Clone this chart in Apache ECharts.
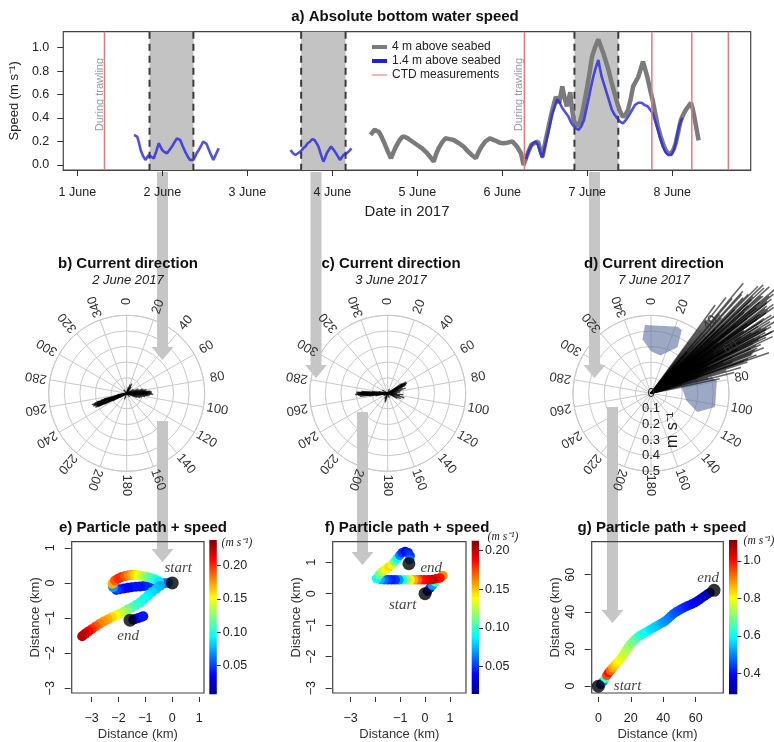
<!DOCTYPE html>
<html>
<head>
<meta charset="utf-8">
<title>Bottom water speed, current direction and particle paths</title>
<script src="https://cdn.jsdelivr.net/npm/echarts@6/dist/echarts.min.js"></script>
<style>
  html, body { margin: 0; padding: 0; background: #fff; }
  #chart { width: 774px; height: 742px; }
</style>
</head>
<body>
<div id="chart"></div>
<script>
// ---------- a) speed time series, x = days after 1 June 2017 00:00 ----------
const dayTicks = [0, 1, 2, 3, 4, 5, 6, 7];
const dayLabels = ['1 June', '2 June', '3 June', '4 June', '5 June', '6 June', '7 June', '8 June'];
const speedTicks = [0, 0.2, 0.4, 0.6, 0.8, 1.0];
const ctdDays = [0.319, 5.26, 6.76, 7.23, 7.66];
const trawlDays = [0.319, 5.26];
const focusBands = [[0.849, 1.365], [2.633, 3.156], [5.849, 6.365]];

const speed4m = [
  [3.45,0.256],[3.475,0.28],[3.497,0.30],[3.52,0.30],[3.55,0.28],[3.58,0.24],[3.613,0.185],[3.65,0.12],
  [3.69,0.057],[3.72,0.11],[3.749,0.157],[3.79,0.21],[3.826,0.24],[3.85,0.24],[3.88,0.23],[3.94,0.20],
  [4.0,0.17],[4.06,0.14],[4.116,0.10],[4.16,0.06],[4.194,0.028],[4.22,0.09],[4.25,0.142],[4.29,0.19],
  [4.33,0.227],[4.38,0.22],[4.427,0.213],[4.49,0.185],[4.543,0.157],[4.59,0.12],[4.64,0.085],[4.69,0.057],
  [4.72,0.11],[4.756,0.157],[4.80,0.20],[4.853,0.227],[4.91,0.21],[4.97,0.19],[5.008,0.185],[5.06,0.19],
  [5.12,0.20],[5.17,0.16],[5.22,0.10],[5.25,0.0],[5.28,0.06],[5.30,0.10],[5.34,0.17],[5.377,0.185],
  [5.42,0.20],[5.45,0.12],[5.473,0.07],[5.51,0.21],[5.54,0.31],[5.57,0.41],[5.60,0.50],[5.63,0.58],
  [5.67,0.53],[5.706,0.67],[5.73,0.58],[5.76,0.50],[5.80,0.62],[5.82,0.48],[5.84,0.38],[5.88,0.33],
  [5.91,0.36],[5.94,0.44],[5.97,0.55],[6.0,0.67],[6.03,0.80],[6.055,0.92],[6.09,1.0],[6.13,1.07],
  [6.16,1.01],[6.19,0.95],[6.22,0.88],[6.25,0.81],[6.28,0.72],[6.31,0.64],[6.34,0.56],[6.365,0.50],
  [6.39,0.45],[6.42,0.41],[6.45,0.43],[6.48,0.47],[6.51,0.56],[6.54,0.67],[6.57,0.71],[6.60,0.75],
  [6.63,0.82],[6.655,0.88],[6.68,0.82],[6.71,0.74],[6.74,0.64],[6.77,0.55],[6.80,0.44],[6.83,0.33],
  [6.86,0.25],[6.89,0.185],[6.92,0.13],[6.95,0.10],[6.99,0.10],[7.02,0.14],[7.04,0.185],[7.07,0.28],
  [7.10,0.38],[7.13,0.43],[7.16,0.47],[7.19,0.50],[7.22,0.53],[7.24,0.48],[7.26,0.41],[7.285,0.31],[7.31,0.21]
];

const speed14m = [
  [0.667,0.256],[0.69,0.25],[0.705,0.24],[0.725,0.19],[0.744,0.128],[0.77,0.08],[0.80,0.043],[0.82,0.06],
  [0.84,0.085],[0.87,0.07],[0.90,0.057],[0.93,0.12],[0.958,0.185],[0.975,0.16],[0.997,0.128],[1.025,0.11],
  [1.055,0.10],[1.085,0.13],[1.113,0.157],[1.14,0.19],[1.171,0.227],[1.19,0.215],[1.21,0.213],[1.24,0.16],
  [1.268,0.114],[1.30,0.07],[1.326,0.043],[1.345,0.03],[1.365,0.043],[1.385,0.07],[1.403,0.10],[1.43,0.13],
  [1.46,0.17],[1.48,0.20],[1.50,0.213],[1.52,0.18],[1.54,0.142],[1.57,0.09],[1.60,0.043],[1.63,0.09],[1.663,0.142],
  [2.0,'-'],
  [2.508,0.128],[2.537,0.10],[2.566,0.085],[2.595,0.10],[2.624,0.114],[2.655,0.14],[2.683,0.157],[2.71,0.185],
  [2.74,0.20],[2.765,0.22],[2.79,0.213],[2.81,0.19],[2.837,0.157],[2.865,0.09],[2.895,0.028],[2.915,0.06],
  [2.934,0.10],[2.96,0.13],[2.985,0.157],[3.005,0.14],[3.03,0.114],[3.06,0.08],[3.09,0.043],[3.11,0.06],
  [3.13,0.085],[3.15,0.09],[3.17,0.10],[3.20,0.12],[3.225,0.142],
  [4.0,'-'],
  [5.28,0.05],[5.30,0.10],[5.33,0.15],[5.36,0.185],[5.39,0.20],[5.42,0.17],[5.45,0.10],[5.47,0.06],
  [5.50,0.15],[5.53,0.24],[5.56,0.34],[5.59,0.44],[5.62,0.50],[5.645,0.56],[5.67,0.54],[5.695,0.50],
  [5.72,0.47],[5.75,0.44],[5.78,0.41],[5.81,0.36],[5.84,0.33],[5.87,0.31],[5.90,0.30],[5.93,0.33],
  [5.96,0.38],[5.99,0.48],[6.02,0.58],[6.045,0.67],[6.07,0.75],[6.10,0.83],[6.13,0.895],[6.15,0.82],
  [6.17,0.75],[6.20,0.68],[6.23,0.61],[6.26,0.54],[6.29,0.47],[6.32,0.43],[6.35,0.40],[6.385,0.37],
  [6.42,0.355],[6.45,0.38],[6.48,0.41],[6.52,0.46],[6.56,0.51],[6.60,0.53],[6.64,0.53],[6.675,0.51],
  [6.71,0.50],[6.74,0.47],[6.77,0.44],[6.80,0.37],[6.83,0.30],[6.86,0.22],[6.89,0.155],[6.92,0.11],
  [6.95,0.085],[6.99,0.085],[7.02,0.13],[7.04,0.185],[7.06,0.26],[7.08,0.33],[7.10,0.37],[7.12,0.40]
];

// ---------- b-d) current direction: [speed (m/s), direction (deg)] ----------
const angleTicks = [0, 20, 40, 60, 80, 100, 120, 140, 160, 180, 200, 220, 240, 260, 280, 300, 320, 340];
const radialTicks = [0, 0.1, 0.2, 0.3, 0.4, 0.5];

const dirJune2 = [
  [0.22,250],[0.235,252],[0.21,248],[0.20,254],[0.19,246],[0.23,249],[0.18,251],[0.16,244],[0.15,256],
  [0.21,247],[0.12,250],[0.10,242],[0.08,258],[0.17,253],[0.20,245],[0.14,249],[0.06,262],[0.05,238],
  [0.225,251],[0.215,253],[0.205,249],[0.19,252],[0.18,247],[0.22,246],[0.2,250],[0.17,255],
  [0.16,88],[0.17,92],[0.15,85],[0.14,96],[0.13,80],[0.12,100],[0.10,104],[0.15,90],[0.11,76],
  [0.09,108],[0.13,94],[0.16,86],[0.08,70],[0.07,112],[0.16,90],[0.15,94],[0.14,88],[0.12,83],
  [0.07,28],[0.06,22],[0.05,35],[0.04,15],[0.03,140],[0.04,200],[0.03,320],[0.05,60]
];
const dirJune3 = [
  [0.21,268],[0.20,270],[0.19,266],[0.20,272],[0.18,264],[0.17,274],[0.15,269],[0.12,262],[0.10,276],
  [0.16,267],[0.19,271],[0.14,265],[0.08,258],[0.06,280],[0.13,270],[0.2,268],[0.19,269],[0.18,271],
  [0.17,267],[0.16,273],
  [0.14,58],[0.13,62],[0.12,66],[0.11,55],[0.10,70],[0.12,74],[0.09,78],[0.13,60],[0.08,84],[0.14,62],
  [0.13,65],[0.12,59],
  [0.10,95],[0.11,105],[0.09,112],[0.08,100],[0.07,118],[0.06,90],
  [0.05,200],[0.04,210],[0.06,195],[0.03,160],[0.03,20],[0.04,300],[0.03,240]
];
const dirJune7 = [
  [0.92,40],[0.95,49],[0.88,42],[1.00,46],[1.05,50],[0.98,52],[0.90,55],[0.85,57],[0.80,60],[0.95,58],
  [0.75,62],[0.82,64],[0.70,66],[0.78,68],[0.72,70],[0.65,72],[0.60,74],[0.55,76],[0.45,78],[0.50,73],
  [0.85,44],[0.78,38],[0.70,36],[0.60,39],[0.93,53],[1.02,48],[0.88,47],[0.66,43],[0.58,45],[0.52,50],
  [0.48,56],[0.44,61],[0.40,65],[0.36,69],[0.32,71],[0.30,54],[0.28,47],[0.35,41],[0.42,59],[0.62,63],
  [0.70,51],[0.76,54],[0.68,58],[0.84,61],[0.90,63],[0.74,67],[0.80,71],[0.56,69],[0.64,47],[0.97,45],
  [0.87,51],[0.79,49],[0.71,56],[0.60,60],[0.50,67],[0.38,75],[0.26,62],[0.24,44],[0.92,57],[0.86,65],
  [0.94,52],[0.96,55],[0.89,59],[0.83,62],[0.77,66],[0.91,50],[0.99,47],[0.86,54],[0.81,58],[0.73,64],
  [0.69,69],[0.63,71],[0.88,61],[0.93,60],[0.97,54],[1.01,51],[0.84,48],[0.76,45],[0.67,41],[0.59,37],
  [0.54,53],[0.47,58],[0.41,63],[0.57,66],[0.66,60],[0.72,56],[0.78,52],[0.83,55],[0.75,59],[0.87,63],
  [0.90,46.5],[0.94,48.5],[0.98,50.5],[0.91,53.5],[0.87,56.5],[0.82,59.5],[0.79,62.5],[0.74,65.5],[0.70,68.5],
  [0.66,70.5],[0.86,42.5],[0.80,40.5],[0.89,44.5],[0.95,51.5],[0.92,54.5],[0.85,60.5],[0.77,63.5],[0.72,67.5]
];
// shaded sectors on 7 June, outline as [radius, direction]
const roseJune7 = [
  [[0.35,351],[0.44,355],[0.46,22],[0.45,26],[0.34,30],[0.25,14],[0.27,0]],
  [[0.20,78],[0.40,75],[0.43,79],[0.42,102],[0.32,112],[0.23,101]]
];

// ---------- e-g) particle paths: [x km, y km, speed m/s] ----------
const pathJune2 = [
  [-0.15,0.0,0.07],[-0.3,-0.01,0.06],[-0.45,-0.03,0.055],[-0.6,-0.04,0.05],[-0.75,-0.06,0.05],[-0.9,-0.07,0.045],
  [-1.05,-0.09,0.045],[-1.2,-0.1,0.04],[-1.35,-0.11,0.04],[-1.5,-0.12,0.04],[-1.65,-0.14,0.035],[-1.8,-0.16,0.035],
  [-1.95,-0.18,0.04],[-2.08,-0.2,0.05],[-2.2,-0.12,0.07],
  [-2.22,-0.02,0.17],[-2.13,0.07,0.19],[-2.0,0.13,0.2],[-1.88,0.17,0.2],[-1.75,0.2,0.19],[-1.62,0.22,0.18],
  [-1.5,0.23,0.17],[-1.38,0.23,0.16],[-1.25,0.22,0.15],[-1.12,0.2,0.14],[-1.0,0.18,0.13],[-0.88,0.16,0.12],
  [-0.75,0.13,0.11],[-0.62,0.09,0.1],[-0.5,0.04,0.09],
  [-0.45,-0.08,0.075],[-0.6,-0.17,0.08],[-0.75,-0.26,0.085],[-0.9,-0.36,0.09],[-1.05,-0.46,0.095],[-1.2,-0.56,0.1],
  [-1.35,-0.63,0.105],[-1.5,-0.7,0.11],[-1.65,-0.75,0.12],[-1.8,-0.82,0.13],[-1.95,-0.88,0.14],[-2.1,-0.93,0.15],
  [-2.25,-0.98,0.16],[-2.4,-1.04,0.17],[-2.55,-1.1,0.175],[-2.7,-1.16,0.18],[-2.85,-1.24,0.19],[-3.0,-1.32,0.2],
  [-3.12,-1.38,0.21],[-3.24,-1.45,0.22],[-3.35,-1.52,0.225],
  [-1.45,-1.05,0.04],[-1.35,-1.02,0.035],[-1.25,-1.0,0.03],[-1.15,-0.97,0.035],[-1.08,-0.95,0.04]
];
const pathJune3 = [
  [0.1,0.08,0.035],[0.2,0.18,0.045],[0.3,0.27,0.07],[0.42,0.37,0.1],[0.55,0.46,0.14],[0.65,0.53,0.16],[0.72,0.57,0.16],
  [0.6,0.5,0.185],[0.45,0.47,0.19],[0.3,0.45,0.2],[0.15,0.44,0.195],[0.0,0.44,0.19],[-0.15,0.44,0.185],[-0.3,0.44,0.17],
  [-0.45,0.44,0.155],[-0.6,0.44,0.14],[-0.75,0.44,0.12],[-0.9,0.44,0.095],[-1.05,0.44,0.07],[-1.2,0.44,0.05],
  [-1.35,0.44,0.045],[-1.5,0.44,0.05],[-1.65,0.44,0.06],[-1.8,0.45,0.075],[-1.95,0.48,0.09],
  [-1.85,0.6,0.11],[-1.72,0.7,0.125],[-1.58,0.78,0.14],[-1.45,0.85,0.145],[-1.33,0.93,0.135],[-1.22,1.02,0.11],
  [-1.12,1.12,0.09],[-1.02,1.22,0.065],[-0.92,1.3,0.05],[-0.8,1.34,0.04],[-0.68,1.3,0.045],[-0.6,1.2,0.05],[-0.62,1.08,0.06]
];
const pathJune7 = [
  [1.5,1.0,0.42],[3.0,2.5,0.5],[4.2,4.2,0.65],[5.2,5.8,0.95],[6.3,7.2,1.0],[7.5,8.4,0.93],[8.8,9.8,0.88],
  [10.2,11.2,0.85],[11.6,12.6,0.82],[13.0,14.0,0.8],[14.4,15.5,0.78],[15.7,17.2,0.76],[17.0,19.0,0.75],
  [18.3,20.7,0.73],[19.6,22.3,0.72],[21.0,23.7,0.7],[22.5,25.0,0.68],[24.0,26.2,0.66],[25.6,27.2,0.64],
  [27.2,28.0,0.62],[28.8,28.8,0.61],[30.4,29.6,0.6],[32.0,30.4,0.58],[33.6,31.2,0.57],[35.2,32.0,0.56],
  [36.8,32.8,0.55],[38.4,33.6,0.54],[40.0,34.4,0.52],[41.6,35.3,0.51],[43.2,36.5,0.5],[44.8,37.8,0.49],
  [46.4,39.0,0.47],[48.0,40.0,0.46],[49.6,40.8,0.45],[51.2,41.6,0.44],[52.8,42.3,0.43],[54.4,43.0,0.42],
  [56.0,43.6,0.41],[57.6,44.2,0.4],[59.2,44.9,0.39],[60.8,45.7,0.38],[62.4,46.6,0.36],[64.0,47.6,0.35],
  [65.6,48.6,0.34],[67.2,49.6,0.33],[68.8,50.5,0.32]
];
const endsJune2 = [[0, 0], [-1.57, -1.06]];
const endsJune3 = [[0, 0], [-0.65, 0.95]];
const endsJune7 = [[0, 0], [71.3, 51.6]];
const endNames = ['start', 'end'];

const kmTicks = [-3, -2, -1, 0, 1];
const kmLabelsF = [-3, -1, 0, 1];
const bigKmTicks = [0, 20, 40, 60];
const cbTicksSmall = [0.05, 0.10, 0.15, 0.20];
const cbTicksBig = [0.4, 0.6, 0.8, 1.0];

// ---------- styling ----------
const FONT = '"Liberation Sans", Arial, Helvetica, sans-serif';
const SERIF = '"Liberation Serif", "Times New Roman", serif';
const jet = ['#00008f', '#0000ff', '#007fff', '#00ffff', '#7fff7f', '#ffff00', '#ff7f00', '#ff0000', '#800000'];
const GRID_GREY = '#c9c9c9';
const minus = v => (v < 0 ? '\u2212' + Math.abs(v) : String(v));

function txt(text, x, y, opt) {
  opt = opt || {};
  return {
    type: 'text', x: x, y: y, rotation: opt.rotation || 0, z: 10, silent: true,
    style: {
      text: text, fill: opt.color || '#222', fontSize: opt.size || 12, fontFamily: opt.family || FONT,
      fontStyle: opt.italic ? 'italic' : 'normal', fontWeight: opt.bold ? 'bold' : 'normal',
      align: 'center', verticalAlign: 'middle', textAlign: 'center', textVerticalAlign: 'middle'
    }
  };
}

// ---------- axes ----------
const grids = [
  {left: 55, top: 31.7, width: 695.7, height: 138.3},
  {left: 71.7, top: 541.7, width: 132.3, height: 152.6},
  {left: 332.7, top: 541.7, width: 133.3, height: 152.3},
  {left: 591.7, top: 541.7, width: 131.6, height: 152.6},
  {left: 209.3, top: 540, width: 7.5, height: 154.3},
  {left: 471.7, top: 540.7, width: 7.3, height: 153.3},
  {left: 729, top: 540, width: 8.3, height: 154.3}
].map((g, i) => Object.assign({show: i < 4, borderColor: '#444', borderWidth: 1.2}, g));

function distX(gridIndex, min, max, ticks, labels) {
  return {
    type: 'value', gridIndex: gridIndex, min: min, max: max, offset: 4,
    name: 'Distance (km)', nameLocation: 'middle', nameGap: 31,
    nameTextStyle: {fontSize: 13, color: '#333'},
    axisLine: {show: false, onZero: false}, splitLine: {show: false},
    axisTick: {show: true, customValues: ticks, length: 5, lineStyle: {color: '#333'}},
    axisLabel: {customValues: labels, formatter: minus, fontSize: 12.5, color: '#222', margin: 15}
  };
}
function distY(gridIndex, min, max, ticks) {
  return {
    type: 'value', gridIndex: gridIndex, min: min, max: max, offset: 1,
    name: 'Distance (km)', nameLocation: 'middle', nameGap: 29,
    nameTextStyle: {fontSize: 13, color: '#333'},
    axisLine: {show: false, onZero: false}, splitLine: {show: false},
    axisTick: {show: true, customValues: ticks, length: 6, lineStyle: {color: '#333'}},
    axisLabel: {customValues: ticks, formatter: minus, fontSize: 12.5, color: '#222', rotate: 90, margin: 14}
  };
}
function cbY(gridIndex, min, max, ticks, digits) {
  return {
    type: 'value', gridIndex: gridIndex, position: 'right', min: min, max: max,
    axisLine: {show: false, onZero: false}, splitLine: {show: false},
    axisTick: {show: true, customValues: ticks, length: 4, lineStyle: {color: '#333'}},
    axisLabel: {customValues: ticks, formatter: v => v.toFixed(digits), fontSize: 12.5, color: '#222', margin: 6}
  };
}

const xAxis = [
  {
    type: 'value', gridIndex: 0, min: -0.166, max: 7.923,
    name: 'Date in 2017', nameLocation: 'middle', nameGap: 34,
    nameTextStyle: {fontSize: 15, color: '#222'},
    axisLine: {show: true, onZero: false, lineStyle: {color: '#444', width: 1.2}}, splitLine: {show: false},
    axisTick: {show: true, customValues: dayTicks, length: 6, lineStyle: {color: '#333'}},
    axisLabel: {customValues: dayTicks, formatter: v => dayLabels[Math.round(v)], fontSize: 12.5, color: '#222', margin: 16}
  },
  distX(1, -3.74, 1.18, kmTicks, kmTicks),
  distX(2, -3.72, 1.65, kmTicks, kmLabelsF),
  distX(3, -4.1, 77.0, bigKmTicks, bigKmTicks),
  {type: 'value', gridIndex: 4, min: 0, max: 1, show: false},
  {type: 'value', gridIndex: 5, min: 0, max: 1, show: false},
  {type: 'value', gridIndex: 6, min: 0, max: 1, show: false}
];
const yAxis = [
  {
    type: 'value', gridIndex: 0, min: -0.043, max: 1.136,
    name: 'Speed (m s\u207B\u00B9)', nameLocation: 'middle', nameGap: 36,
    nameTextStyle: {fontSize: 13, color: '#222'},
    axisLine: {show: false, onZero: false}, splitLine: {show: false},
    axisTick: {show: true, customValues: speedTicks, length: 6, lineStyle: {color: '#333'}},
    axisLabel: {customValues: speedTicks, formatter: v => v.toFixed(1), fontSize: 12.5, color: '#222', margin: 14}
  },
  distY(1, -3.135, 1.175, kmTicks),
  distY(2, -3.155, 1.65, kmTicks),
  distY(3, -3.7, 77.8, bigKmTicks),
  cbY(4, 0.007, 0.2386, cbTicksSmall, 2),
  cbY(5, 0.0146, 0.213, cbTicksSmall, 2),
  cbY(6, 0.288, 1.112, cbTicksBig, 1)
];

// ---------- series ----------
const series = [];

series.push({
  type: 'custom', xAxisIndex: 0, yAxisIndex: 0, z: 1, silent: true, data: focusBands,
  renderItem: function (params, api) {
    const cs = params.coordSys;
    const x0 = api.coord([api.value(0), 0])[0];
    const x1 = api.coord([api.value(1), 0])[0];
    const dash = {stroke: '#3a3a3a', lineWidth: 2, lineDash: [7, 5]};
    return {type: 'group', children: [
      {type: 'rect', shape: {x: x0, y: cs.y, width: x1 - x0, height: cs.height}, style: {fill: '#c3c3c3'}},
      {type: 'line', shape: {x1: x0, y1: cs.y, x2: x0, y2: cs.y + cs.height}, style: dash},
      {type: 'line', shape: {x1: x1, y1: cs.y, x2: x1, y2: cs.y + cs.height}, style: dash}
    ]};
  }
});
series.push({
  type: 'line', name: '4 m above seabed', xAxisIndex: 0, yAxisIndex: 0, z: 3,
  data: speed4m, symbol: 'none', lineStyle: {color: '#7b7b7b', width: 4.5}, itemStyle: {color: '#7b7b7b'}
});
series.push({
  type: 'line', name: '1.4 m above seabed', xAxisIndex: 0, yAxisIndex: 0, z: 4,
  data: speed14m, symbol: 'none', connectNulls: false,
  lineStyle: {color: '#2a2ae0', width: 2.6, opacity: 0.82}, itemStyle: {color: '#1f1fe6'}
});
series.push({
  type: 'custom', name: 'CTD measurements', xAxisIndex: 0, yAxisIndex: 0, z: 5, silent: true,
  data: ctdDays.map(d => [d, 0]), itemStyle: {color: '#e07c7c'},
  renderItem: function (params, api) {
    const cs = params.coordSys;
    const x = api.coord([api.value(0), 0])[0];
    return {type: 'line', shape: {x1: x, y1: cs.y, x2: x, y2: cs.y + cs.height}, style: {stroke: '#e07c7c', lineWidth: 1.5}};
  }
});
series.push({
  type: 'custom', xAxisIndex: 0, yAxisIndex: 0, z: 5, silent: true,
  data: trawlDays.map(d => [d, 0.6]),
  renderItem: function (params, api) {
    const p = api.coord([api.value(0), api.value(1)]);
    return txt('During trawling', p[0] - 5, p[1], {rotation: Math.PI / 2, color: '#9a9a9a', size: 11});
  }
});

// polar panels
function angleLabels(polarIndex) {
  return {
    type: 'custom', coordinateSystem: 'polar', polarIndex: polarIndex, silent: true, z: 6,
    data: angleTicks.map(a => [0.59, a]),
    renderItem: function (params, api) {
      const a = api.value(1);
      const p = api.coord([api.value(0), a]);
      return txt(String(a), p[0], p[1], {rotation: (90 - a) * Math.PI / 180, size: 13, color: '#333'});
    }
  };
}
function fan(polarIndex, data, alpha, width) {
  return {
    type: 'custom', coordinateSystem: 'polar', polarIndex: polarIndex, silent: true, z: 4, data: data,
    renderItem: function (params, api) {
      const c = api.coord([0, 0]);
      const p = api.coord([api.value(0), api.value(1)]);
      return {type: 'line', shape: {x1: c[0], y1: c[1], x2: p[0], y2: p[1]},
        style: {stroke: 'rgba(0,0,0,' + alpha + ')', lineWidth: width}};
    }
  };
}
[0, 1, 2].forEach(i => series.push(angleLabels(i)));
series.push({
  type: 'custom', coordinateSystem: 'polar', polarIndex: 2, silent: true, z: 3,
  data: roseJune7.map(poly => poly[0]),
  renderItem: function (params, api) {
    const pts = roseJune7[params.dataIndex].map(p => api.coord(p));
    return {type: 'polygon', shape: {points: pts}, style: {fill: 'rgba(95,115,160,0.62)'}};
  }
});
series.push(fan(0, dirJune2, 0.7, 1.4));
series.push(fan(1, dirJune3, 0.7, 1.4));
series.push(fan(2, dirJune7, 0.6, 1.6));
series.push({
  type: 'custom', coordinateSystem: 'polar', polarIndex: 2, silent: true, z: 7,
  data: radialTicks.map(r => [r, 180]),
  renderItem: function (params, api) {
    const r = api.value(0);
    const p = api.coord([r, 180]);
    return txt(r === 0 ? '0' : r.toFixed(1), p[0], p[1], {size: 13, color: '#222'});
  }
});

// particle paths
const pathSets = [
  {grid: 1, path: pathJune2, ends: endsJune2, size: 10, lab: [
    {position: 'top', distance: 0, offset: [6, -1]}, {position: 'bottom', distance: 2, offset: [-2, 0]}]},
  {grid: 2, path: pathJune3, ends: endsJune3, size: 9.5, lab: [
    {position: 'left', distance: 5, offset: [3, 11]}, {position: 'right', distance: 5, offset: [0, 4]}]},
  {grid: 3, path: pathJune7, ends: endsJune7, size: 9.5, lab: [
    {position: 'right', distance: 5, offset: [4, 0]}, {position: 'top', distance: 0, offset: [-6, 2]}]}
];
const cbRanges = [[0.007, 0.2386], [0.0146, 0.213], [0.288, 1.112]];
const visualMap = [];
pathSets.forEach((s, i) => {
  visualMap.push({
    show: false, seriesIndex: series.length, dimension: 2,
    min: cbRanges[i][0], max: cbRanges[i][1], inRange: {color: jet}
  });
  series.push({
    type: 'scatter', xAxisIndex: s.grid, yAxisIndex: s.grid, z: 3, silent: true,
    data: s.path, symbolSize: s.size, itemStyle: {opacity: 1}
  });
  series.push({
    type: 'scatter', xAxisIndex: s.grid, yAxisIndex: s.grid, z: 4, silent: true,
    symbolSize: 13, itemStyle: {color: '#000'},
    data: s.ends.map((p, k) => ({value: p, name: endNames[k], label: s.lab[k]})),
    label: {show: true, formatter: '{b}', fontFamily: SERIF, fontStyle: 'italic', fontSize: 15, color: '#111'}
  });
  series.push({
    type: 'custom', xAxisIndex: 4 + i, yAxisIndex: 4 + i, silent: true,
    data: [cbRanges[i]],
    renderItem: function (params, api) {
      const hi = api.coord([0, api.value(1)]);
      const lo = api.coord([1, api.value(0)]);
      return {type: 'rect', shape: {x: hi[0], y: hi[1], width: lo[0] - hi[0], height: lo[1] - hi[1]},
        style: {fill: new echarts.graphic.LinearGradient(0, 1, 0, 0,
          jet.map((c, k) => ({offset: k / (jet.length - 1), color: c})))}};
    }
  });
});

// ---------- titles, arrows, loose labels ----------
const titleStyle = {fontSize: 15, fontWeight: 'bold', color: '#111', fontFamily: FONT};
const subStyle = {fontSize: 13, fontStyle: 'italic', color: '#222', fontFamily: FONT};
const title = [
  {text: 'a) Absolute bottom water speed', left: 400, top: 4, textAlign: 'center', textStyle: titleStyle},
  {text: 'b) Current direction', subtext: '2 June 2017', left: 123, top: 251, itemGap: 3, textAlign: 'center', textStyle: titleStyle, subtextStyle: subStyle},
  {text: 'c) Current direction', subtext: '3 June 2017', left: 386, top: 251, itemGap: 3, textAlign: 'center', textStyle: titleStyle, subtextStyle: subStyle},
  {text: 'd) Current direction', subtext: '7 June 2017', left: 649, top: 251, itemGap: 3, textAlign: 'center', textStyle: titleStyle, subtextStyle: subStyle},
  {text: 'e) Particle path + speed', left: 138, top: 515, textAlign: 'center', textStyle: titleStyle},
  {text: 'f) Particle path + speed', left: 402, top: 515, textAlign: 'center', textStyle: titleStyle},
  {text: 'g) Particle path + speed', left: 657, top: 515, textAlign: 'center', textStyle: titleStyle}
];

const arrows = [[162.5, 172, 360], [162.5, 421, 562], [316, 172, 378], [362.5, 412, 565], [594.5, 172, 378], [612.5, 407, 623]];
const graphic = arrows.map(a => ({
  type: 'polygon', z: -1, silent: true,
  shape: {points: [[a[0] - 5.5, a[1]], [a[0] + 5.5, a[1]], [a[0] + 5.5, a[2] - 13], [a[0] + 11, a[2] - 13],
    [a[0], a[2]], [a[0] - 11, a[2] - 13], [a[0] - 5.5, a[2] - 13]]},
  style: {fill: '#c6c6c6'}
}));
graphic.push(txt('m s\u207B\u00B9', 673, 430, {rotation: Math.PI / 2, size: 16, color: '#222'}));
graphic.push(txt('(m s\u207B\u00B9)', 237, 543, {italic: true, family: SERIF, size: 11.5}));
graphic.push(txt('(m s\u207B\u00B9)', 503, 537, {italic: true, family: SERIF, size: 11.5}));
graphic.push(txt('(m s\u207B\u00B9)', 759, 541, {italic: true, family: SERIF, size: 11.5}));

const option = {
  animation: false,
  backgroundColor: '#fff',
  textStyle: {fontFamily: FONT},
  title: title,
  legend: {
    orient: 'vertical', left: 367, top: 36, itemWidth: 15, itemHeight: 4, itemGap: 2,
    textStyle: {fontSize: 12, color: '#222', fontFamily: FONT},
    data: [
      {name: '4 m above seabed', icon: 'rect'},
      {name: '1.4 m above seabed', icon: 'rect'},
      {name: 'CTD measurements', icon: 'path://M0,0H28V2H0Z'}
    ]
  },
  grid: grids,
  xAxis: xAxis,
  yAxis: yAxis,
  polar: [[126.7, 393.3], [387.7, 393.3], [651, 393.3]].map(c => ({center: c, radius: 78})),
  angleAxis: [0, 1, 2].map(i => ({
    polarIndex: i, type: 'value', min: 0, max: 360, interval: 20, startAngle: 90, clockwise: true,
    axisLine: {lineStyle: {color: GRID_GREY}}, axisTick: {show: false}, axisLabel: {show: false},
    splitLine: {show: true, lineStyle: {color: GRID_GREY}}
  })),
  radiusAxis: [0, 1, 2].map(i => ({
    polarIndex: i, type: 'value', min: 0, max: 0.5, interval: 0.1,
    axisLine: {show: false}, axisTick: {show: false}, axisLabel: {show: false},
    splitLine: {show: true, lineStyle: {color: GRID_GREY}}
  })),
  visualMap: visualMap,
  graphic: graphic,
  series: series
};

const chart = echarts.init(document.getElementById('chart'));
chart.setOption(option);
</script>
</body>
</html>
